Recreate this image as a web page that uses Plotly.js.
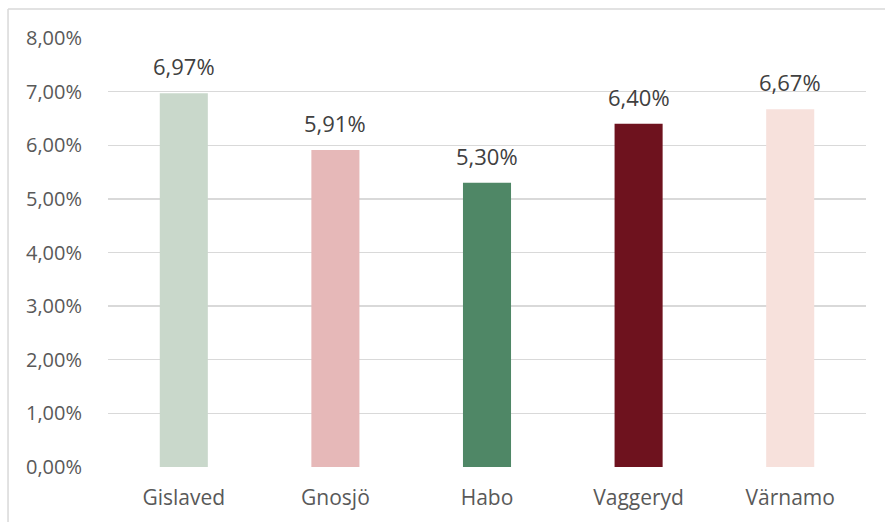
<!DOCTYPE html>
<html>
<head>
<meta charset="utf-8">
<script src="https://cdn.plot.ly/plotly-3.0.1.min.js"></script>
<style>
  html, body { margin: 0; padding: 0; background: #ffffff; }
  #chart { width: 885px; height: 522px; }
</style>
</head>
<body>
<div id="chart"></div>
<script>
// Municipalities and their values (share, in %)
const kommuner = ['Gislaved', 'Gnosjö', 'Habo', 'Vaggeryd', 'Värnamo'];
const andel = [6.97, 5.91, 5.30, 6.40, 6.67];
const barColors = ['#C9D8CB', '#E6B8B8', '#4F8766', '#6E121E', '#F7E1DC'];
const tickVals = [0, 1, 2, 3, 4, 5, 6, 7, 8];

const FONT = '"Open Sans", "Noto Sans", sans-serif';

function fmt(v) {
    return v.toFixed(2).replace('.', ',') + '%';
}

const trace = {
    type: 'bar',
    x: kommuner,
    y: andel,
    marker: { color: barColors },
    hoverinfo: 'skip'
};

// value labels above each bar
const annotations = kommuner.map((k, i) => ({
    x: k,
    y: andel[i],
    xref: 'x',
    yref: 'y',
    text: fmt(andel[i]),
    showarrow: false,
    yanchor: 'bottom',
    yshift: 10,
    font: { family: FONT, size: 22, color: '#404040' }
}));

// chart frame: left and top edge only (rest is cropped off)
const frameColor = '#D9D9D9';
const shapes = [
    { type: 'line', xref: 'paper', yref: 'paper', x0: -0.1319, x1: -0.1319, y0: 1.0676, y1: -0.13,
      line: { color: frameColor, width: 1.5 } },
    { type: 'line', xref: 'paper', yref: 'paper', x0: -0.1319, x1: 1.03, y0: 1.0676, y1: 1.0676,
      line: { color: frameColor, width: 1.5 } }
];

const layout = {
    width: 885,
    height: 522,
    margin: { l: 108, r: 19, t: 38, b: 55 },
    paper_bgcolor: '#ffffff',
    plot_bgcolor: '#ffffff',
    showlegend: false,
    bargap: 0.683,
    font: { family: FONT, color: '#595959', size: 20 },
    xaxis: {
        showgrid: false,
        zeroline: false,
        showline: false,
        ticks: '',
        ticklabelstandoff: 16,
        tickfont: { family: FONT, size: 21, color: '#595959' },
        fixedrange: true
    },
    yaxis: {
        range: [0, 8],
        tickvals: tickVals,
        ticktext: tickVals.map(fmt),
        showgrid: true,
        gridcolor: '#D9D9D9',
        gridwidth: 1.3,
        zeroline: false,
        showline: false,
        ticks: '',
        ticklen: 0,
        ticklabelstandoff: 25,
        tickfont: { family: FONT, size: 20, color: '#595959' },
        fixedrange: true
    },
    annotations: annotations,
    shapes: shapes
};

Plotly.newPlot('chart', [trace], layout, { staticPlot: true, displayModeBar: false });
</script>
</body>
</html>
